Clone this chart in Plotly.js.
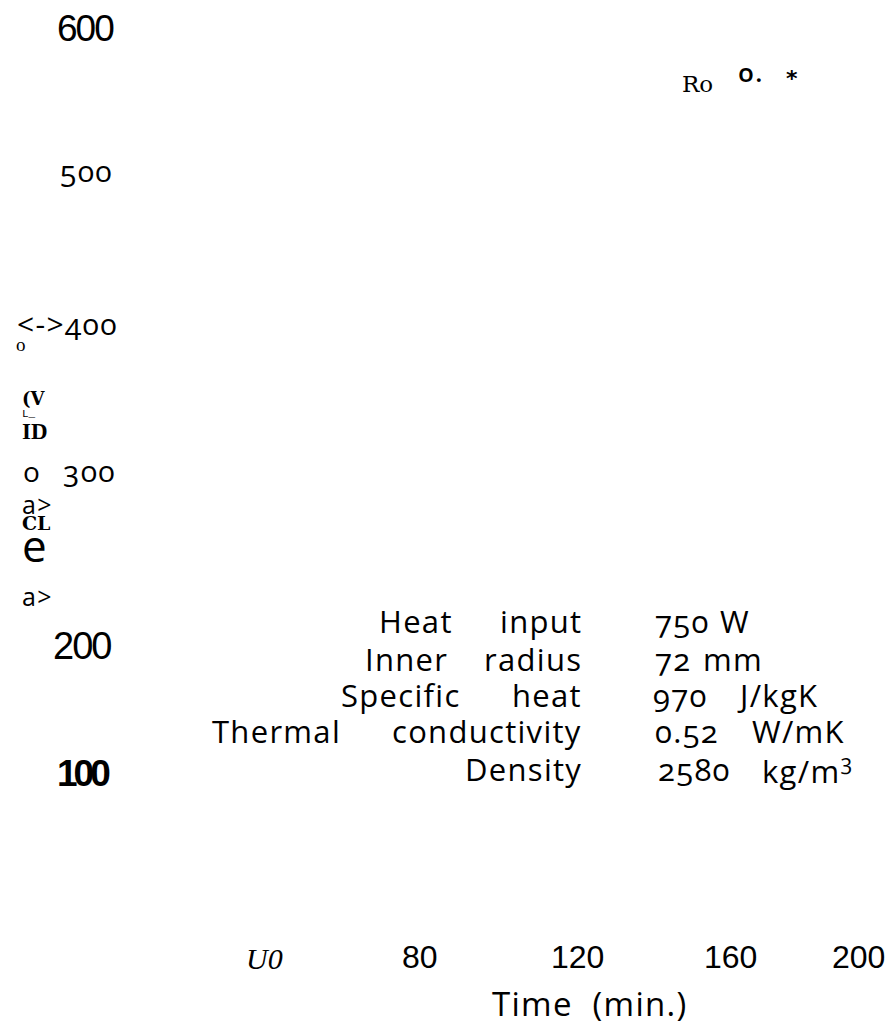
<!DOCTYPE html>
<html>
<head>
<meta charset="utf-8">
<script src="https://cdn.plot.ly/plotly-3.0.1.min.js"></script>
<style>
  html, body { margin: 0; padding: 0; background: #fff; }
  #chart { width: 894px; height: 1027px; }
  text.annotation-text[style*="Open Sans"] {
    letter-spacing: 1.3px;
    font-variant-numeric: oldstyle-nums;
    font-feature-settings: "onum" 1;
  }
  text.annotation-text[style*="Arial"] { letter-spacing: -2px; }
  text.annotation-text[style*="Helvetica"] { letter-spacing: -4px; }
</style>
</head>
<body>
<div id="chart"></div>
<script>
// ---- chart content (text only: the reference carries no plotted marks) ----
const yTickLabels = ["600", "500", "<->400", "300", "200", "100"];
const xTickLabels = ["U0", "80", "120", "160", "200"];
const xAxisTitle = "Time\u00a0\u00a0(min.)";
const propNamesA = ["Heat", "Inner", "Specific", "Thermal", ""];
const propNamesB = ["input", "radius", "heat", "conductivity", "Density"];
const propNumbers = ["750", "72", "970", "0.52", "2580"];
const propUnits = ["W", "mm", "J/kgK", "W/mK", "kg/m<sup>3</sup>"];
const yTitleFragments = ["o", "(V", "L_", "ID", "o", "a>", "CL", "e", "a>"];
const topFragments = ["Ro", "o.", "*"];

// ---- placement / style (pixel space of the 894x1027 page) ----
const OS = "Open Sans";
const LS = "Liberation Sans";
const NARROW = "Arial, Liberation Sans";
const NARROWB = "Helvetica, Liberation Sans";
const PADR = 3, PADL = 2;   // compensate annotation box padding
const yTickStyle = [
  {x: 113, y: 28.5, f: NARROW, s: 37, w: 400},
  {x: 112, y: 170, f: OS, s: 30, w: 400},
  {x: 117, y: 323, f: OS, s: 30, w: 400},
  {x: 115, y: 470, f: OS, s: 30, w: 400},
  {x: 110, y: 646, f: NARROW, s: 38, w: 400},
  {x: 109, y: 773.5, f: NARROWB, s: 37, w: 700}
];
const xTickStyle = [
  {x: 264, y: 958, f: "Liberation Serif", s: 30, st: "italic"},
  {x: 420, y: 957, f: LS, s: 32, st: "normal"},
  {x: 577, y: 957, f: LS, s: 32, st: "normal"},
  {x: 730, y: 957, f: LS, s: 32, st: "normal"},
  {x: 858, y: 957, f: LS, s: 32, st: "normal"}
];
const rowY = [621, 659, 695, 731, 769];
const nameAEnd = [452, 447, 460, 340, 0];
const nameBEnd = 581;
const numLeft = [655, 655, 653, 655, 658];
const unitLeft = [720, 703, 737, 752, 762];
const yTitleStyle = [
  {x: 16, y: 344, f: "Liberation Serif", s: 19, w: 400},
  {x: 22, y: 398, f: "DejaVu Serif", s: 18, w: 700},
  {x: 22, y: 414, f: "Liberation Mono", s: 11, w: 400},
  {x: 22, y: 431, f: "Liberation Serif", s: 23, w: 700},
  {x: 23, y: 471, f: OS, s: 28, w: 400},
  {x: 22, y: 504, f: OS, s: 25, w: 400},
  {x: 22, y: 523, f: "DejaVu Serif", s: 19, w: 700},
  {x: 22, y: 545, f: OS, s: 44, w: 400},
  {x: 22, y: 596, f: OS, s: 25, w: 400}
];
const topStyle = [
  {x: 682, y: 84, f: "DejaVu Serif", s: 23, w: 400},
  {x: 738, y: 72, f: OS, s: 26, w: 600},
  {x: 786, y: 78, f: "DejaVu Sans", s: 22, w: 700}
];

function ann(text, x, y, family, size, xanchor, extra) {
  const dx = xanchor === "right" ? PADR : (xanchor === "left" ? -PADL : 0);
  return {
    text: text, x: x + dx, y: y, xref: "x", yref: "y",
    xanchor: xanchor, yanchor: "middle", showarrow: false,
    font: Object.assign({family: family, size: size, color: "#000"}, extra || {})
  };
}

const annotations = [];
yTickLabels.forEach((t, i) => {
  const s = yTickStyle[i];
  annotations.push(ann(t, s.x, s.y, s.f, s.s, "right", {weight: s.w}));
});
xTickLabels.forEach((t, i) => {
  const s = xTickStyle[i];
  annotations.push(ann(t, s.x, s.y, s.f, s.s, "center", {style: s.st}));
});
annotations.push(ann(xAxisTitle, 590, 1003, OS, 33, "center"));
propNamesB.forEach((t, i) => {
  if (propNamesA[i]) annotations.push(ann(propNamesA[i], nameAEnd[i], rowY[i], OS, 31, "right"));
  annotations.push(ann(t, nameBEnd, rowY[i], OS, 31, "right"));
  annotations.push(ann(propNumbers[i], numLeft[i], rowY[i], OS, 31, "left"));
  annotations.push(ann(propUnits[i], unitLeft[i], rowY[i], OS, 31, "left"));
});
yTitleFragments.forEach((t, i) => {
  const s = yTitleStyle[i];
  annotations.push(ann(t, s.x, s.y, s.f, s.s, "left", {weight: s.w}));
});
topFragments.forEach((t, i) => {
  const s = topStyle[i];
  annotations.push(ann(t, s.x, s.y, s.f, s.s, "left", {weight: s.w}));
});

const layout = {
  width: 894, height: 1027,
  margin: {l: 0, r: 0, t: 0, b: 0, pad: 0},
  paper_bgcolor: "#fff", plot_bgcolor: "#fff",
  showlegend: false,
  xaxis: {range: [0, 894], visible: false, fixedrange: true},
  yaxis: {range: [1027, 0], visible: false, fixedrange: true},
  annotations: annotations
};

Plotly.newPlot("chart", [], layout, {staticPlot: true, displayModeBar: false});
</script>
</body>
</html>
